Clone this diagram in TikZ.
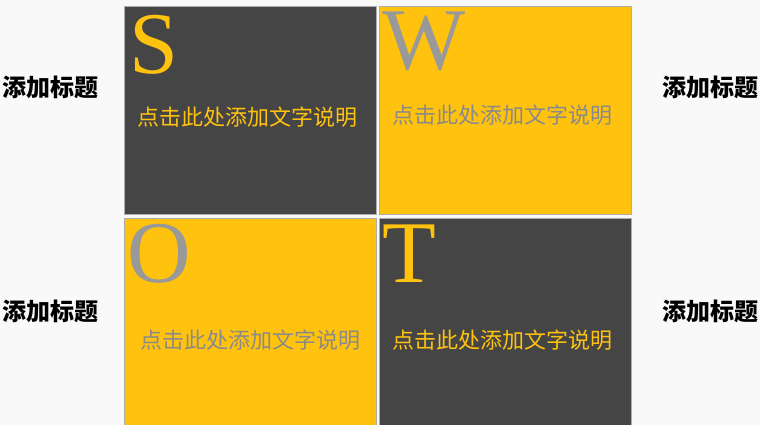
\documentclass[tikz,border=0pt]{standalone}
\usepackage{fontspec}
\usepackage{xcolor}
\setmainfont{Liberation Serif}
\newfontfamily\cjk{Noto Sans CJK SC}
\definecolor{swot-dark}{HTML}{454545}
\definecolor{swot-yellow}{HTML}{FFC20E}
\definecolor{swot-grey}{HTML}{999999}
\definecolor{swot-back}{HTML}{F9F9F9}
\tikzset{
    swot-box/.style = {draw=swot-grey!80, line width=0.8pt, inner sep=0pt, anchor=north west, minimum width=252pt, minimum height=208pt},
    swot-letter/.style = {font=\fontsize{88}{88}\selectfont, inner sep=0pt, anchor=base west},
    swot-text/.style = {font=\cjk\fontsize{22}{22}\selectfont, inner sep=0pt},
    side-title/.style = {font=\cjk\bfseries\fontsize{24}{24}\selectfont, inner sep=0pt, text=black},
}
\begin{document}
\begin{tikzpicture}[x=1pt, y=-1pt]
\fill[swot-back] (0,0) rectangle (760,425);
\useasboundingbox (0,0) rectangle (760,425);
% four quadrants
\node [swot-box, fill=swot-dark] (s-box) at (124,6) {};
\node [swot-box, fill=swot-yellow] (w-box) at (378.5,6) {};
\node [swot-box, fill=swot-yellow] (o-box) at (124,218) {};
\node [swot-box, fill=swot-dark] (t-box) at (378.5,218) {};
% big letters
\node [swot-letter, text=swot-yellow] (s-letter) at (129,74) {S};
\node [swot-letter, text=swot-grey] (w-letter) at (382,70) {W};
\node [swot-letter, text=swot-grey] (o-letter) at (127,282) {O};
\node [swot-letter, text=swot-yellow] (t-letter) at (382,282) {T};
% descriptions
\node [swot-text, text=swot-yellow] (s-text) at (247,117) {点击此处添加文字说明};
\node [swot-text, text=swot-grey!90!black] (w-text) at (502,115) {点击此处添加文字说明};
\node [swot-text, text=swot-grey!90!black] (o-text) at (250,340) {点击此处添加文字说明};
\node [swot-text, text=swot-yellow] (t-text) at (502,340) {点击此处添加文字说明};
% side titles
\node [side-title] (title-lt) at (50,87) {添加标题};
\node [side-title] (title-rt) at (710,87) {添加标题};
\node [side-title] (title-lb) at (50,311) {添加标题};
\node [side-title] (title-rb) at (710,311) {添加标题};
\end{tikzpicture}
\end{document}
